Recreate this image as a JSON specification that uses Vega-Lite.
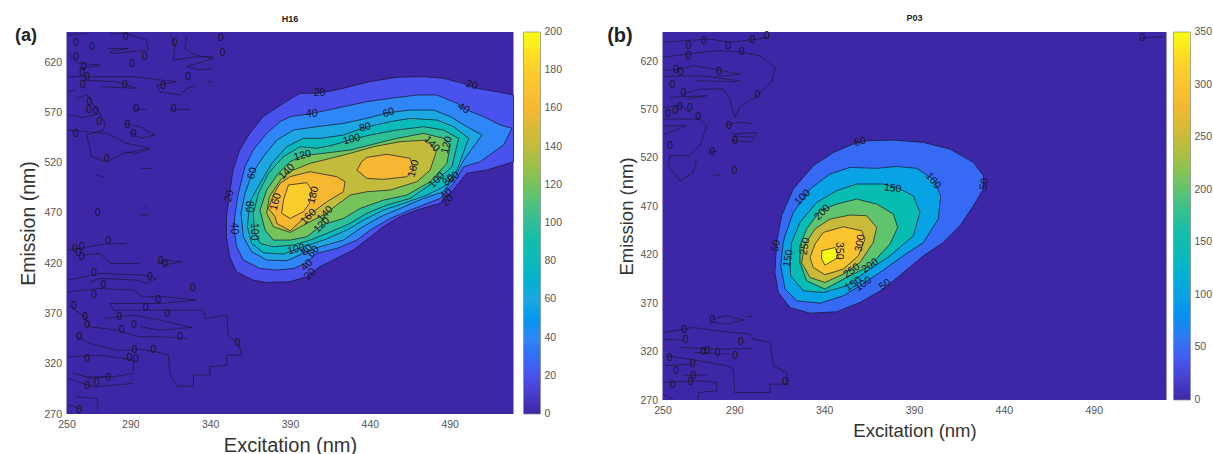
{"$schema":"https://vega.github.io/schema/vega-lite/v6.json","background":"white","padding":{"left":14.5,"top":13,"right":5,"bottom":5},"bounds":"flush","spacing":149,"resolve":{"scale":{"fill":"independent"},"legend":{"fill":"independent"}},"config":{"font":"Liberation Sans","view":{"stroke":null,"fill":"#3e27a6"},"axis":{"grid":false,"domain":false,"ticks":false,"labelColor":"#555555","labelFontSize":10.5,"labelPadding":5,"titleColor":"#333333","titleFontWeight":"normal","labelOverlap":false,"labelFlush":false},"legend":{"labelColor":"#555555","labelFontSize":10.5,"gradientStrokeColor":"#8a8a8a","gradientStrokeWidth":0.7},"title":{"fontSize":9,"fontWeight":"bold","color":"#222222","offset":3}},"datasets":{"contA":[
{"g":"L20","level":20,"x":350.2,"y":446.3},{"g":"L20","level":20,"x":352.2,"y":426.4},{"g":"L20","level":20,"x":356.4,"y":411.5},{"g":"L20","level":20,"x":366.9,"y":403.2},{"g":"L20","level":20,"x":375.2,"y":400.9},{"g":"L20","level":20,"x":389.9,"y":401.6},{"g":"L20","level":20,"x":400.3,"y":406.5},{"g":"L20","level":20,"x":408.7,"y":416.5},{"g":"L20","level":20,"x":419.1,"y":424.8},{"g":"L20","level":20,"x":429.6,"y":433.1},{"g":"L20","level":20,"x":437.9,"y":443},{"g":"L20","level":20,"x":448.4,"y":456.3},{"g":"L20","level":20,"x":458.8,"y":466.3},{"g":"L20","level":20,"x":469.3,"y":472.9},{"g":"L20","level":20,"x":483.9,"y":479.5},{"g":"L20","level":20,"x":492.3,"y":492.8},{"g":"L20","level":20,"x":500.6,"y":509.4},{"g":"L20","level":20,"x":513.2,"y":512.7},{"g":"L20","level":20,"x":523.6,"y":517.7},{"g":"L20","level":20,"x":530,"y":521},{"g":"L20","level":20,"x":530,"y":587.3},{"g":"L20","level":20,"x":519.4,"y":590.6},{"g":"L20","level":20,"x":506.9,"y":594},{"g":"L20","level":20,"x":498.5,"y":598.9},{"g":"L20","level":20,"x":486,"y":603.9},{"g":"L20","level":20,"x":473.5,"y":605.6},{"g":"L20","level":20,"x":456.7,"y":604.9},{"g":"L20","level":20,"x":440,"y":600.6},{"g":"L20","level":20,"x":431.7,"y":597.3},{"g":"L20","level":20,"x":419.1,"y":592.3},{"g":"L20","level":20,"x":406.6,"y":589},{"g":"L20","level":20,"x":396.1,"y":589},{"g":"L20","level":20,"x":385.7,"y":579},{"g":"L20","level":20,"x":373.1,"y":565.8},{"g":"L20","level":20,"x":364.8,"y":549.2},{"g":"L20","level":20,"x":358.5,"y":532.6},{"g":"L20","level":20,"x":354.3,"y":512.7},{"g":"L20","level":20,"x":352.2,"y":489.5},{"g":"L20","level":20,"x":350.2,"y":466.2},{"g":"L20","level":20,"x":350.2,"y":446.3},
{"g":"L40","level":40,"x":354.9,"y":454.6},{"g":"L40","level":40,"x":356.6,"y":436.4},{"g":"L40","level":40,"x":360.8,"y":423.1},{"g":"L40","level":40,"x":371.2,"y":414.8},{"g":"L40","level":40,"x":381.7,"y":413.2},{"g":"L40","level":40,"x":392.2,"y":414.8},{"g":"L40","level":40,"x":399.5,"y":419.8},{"g":"L40","level":40,"x":406.8,"y":429.8},{"g":"L40","level":40,"x":419.3,"y":434.7},{"g":"L40","level":40,"x":431.9,"y":443},{"g":"L40","level":40,"x":440.2,"y":453},{"g":"L40","level":40,"x":452.8,"y":464.6},{"g":"L40","level":40,"x":465.3,"y":472.9},{"g":"L40","level":40,"x":484.1,"y":484.5},{"g":"L40","level":40,"x":492.5,"y":499.4},{"g":"L40","level":40,"x":498.8,"y":516},{"g":"L40","level":40,"x":509.2,"y":521},{"g":"L40","level":40,"x":523.8,"y":537.6},{"g":"L40","level":40,"x":529,"y":554.2},{"g":"L40","level":40,"x":521.7,"y":557.5},{"g":"L40","level":40,"x":511.3,"y":565.8},{"g":"L40","level":40,"x":500.8,"y":572.4},{"g":"L40","level":40,"x":494.6,"y":579},{"g":"L40","level":40,"x":482,"y":587.3},{"g":"L40","level":40,"x":469.5,"y":587.3},{"g":"L40","level":40,"x":452.8,"y":584},{"g":"L40","level":40,"x":438.1,"y":580.7},{"g":"L40","level":40,"x":423.5,"y":575.7},{"g":"L40","level":40,"x":408.9,"y":570.7},{"g":"L40","level":40,"x":400.5,"y":568.1},{"g":"L40","level":40,"x":390.1,"y":565.8},{"g":"L40","level":40,"x":383.8,"y":560.8},{"g":"L40","level":40,"x":375.4,"y":549.2},{"g":"L40","level":40,"x":367,"y":532.6},{"g":"L40","level":40,"x":361.8,"y":516},{"g":"L40","level":40,"x":357.6,"y":489.5},{"g":"L40","level":40,"x":355.6,"y":469.6},{"g":"L40","level":40,"x":354.9,"y":454.6},
{"g":"L60","level":60,"x":366.4,"y":509.4},{"g":"L60","level":60,"x":361.8,"y":489.5},{"g":"L60","level":60,"x":359.3,"y":469.6},{"g":"L60","level":60,"x":360.8,"y":446.3},{"g":"L60","level":60,"x":366,"y":431.4},{"g":"L60","level":60,"x":375.4,"y":423.1},{"g":"L60","level":60,"x":388,"y":422.5},{"g":"L60","level":60,"x":400.5,"y":431.4},{"g":"L60","level":60,"x":408.9,"y":436.4},{"g":"L60","level":60,"x":423.5,"y":443},{"g":"L60","level":60,"x":433.9,"y":454.6},{"g":"L60","level":60,"x":446.5,"y":466.2},{"g":"L60","level":60,"x":459,"y":474.5},{"g":"L60","level":60,"x":473.7,"y":484.5},{"g":"L60","level":60,"x":486.2,"y":491.1},{"g":"L60","level":60,"x":493.5,"y":506.1},{"g":"L60","level":60,"x":498.8,"y":522.6},{"g":"L60","level":60,"x":510.2,"y":547.5},{"g":"L60","level":60,"x":500.8,"y":555.8},{"g":"L60","level":60,"x":490.4,"y":565.8},{"g":"L60","level":60,"x":479.9,"y":572.4},{"g":"L60","level":60,"x":465.3,"y":572.4},{"g":"L60","level":60,"x":451.7,"y":569.7},{"g":"L60","level":60,"x":438.1,"y":564.1},{"g":"L60","level":60,"x":423.5,"y":559.1},{"g":"L60","level":60,"x":406.8,"y":555.8},{"g":"L60","level":60,"x":392.2,"y":552.5},{"g":"L60","level":60,"x":381.7,"y":542.5},{"g":"L60","level":60,"x":373.3,"y":526},{"g":"L60","level":60,"x":366.4,"y":509.4},
{"g":"L80","level":80,"x":364.6,"y":476.2},{"g":"L80","level":80,"x":363.3,"y":456.3},{"g":"L80","level":80,"x":366,"y":439.7},{"g":"L80","level":80,"x":373.3,"y":430.4},{"g":"L80","level":80,"x":385.9,"y":429.1},{"g":"L80","level":80,"x":398.4,"y":436.4},{"g":"L80","level":80,"x":411,"y":443},{"g":"L80","level":80,"x":425.6,"y":453},{"g":"L80","level":80,"x":436,"y":462.9},{"g":"L80","level":80,"x":448.6,"y":472.9},{"g":"L80","level":80,"x":461.1,"y":479.5},{"g":"L80","level":80,"x":475.8,"y":487.8},{"g":"L80","level":80,"x":488.3,"y":497.8},{"g":"L80","level":80,"x":494.6,"y":512.7},{"g":"L80","level":80,"x":501.9,"y":544.2},{"g":"L80","level":80,"x":492.5,"y":555.8},{"g":"L80","level":80,"x":482,"y":562.4},{"g":"L80","level":80,"x":465.3,"y":564.1},{"g":"L80","level":80,"x":452.8,"y":560.8},{"g":"L80","level":80,"x":437.1,"y":555.1},{"g":"L80","level":80,"x":423.5,"y":547.5},{"g":"L80","level":80,"x":408.9,"y":544.2},{"g":"L80","level":80,"x":398.4,"y":544.2},{"g":"L80","level":80,"x":388,"y":535.9},{"g":"L80","level":80,"x":378.6,"y":519.3},{"g":"L80","level":80,"x":371.2,"y":499.4},{"g":"L80","level":80,"x":366,"y":484.5},{"g":"L80","level":80,"x":364.6,"y":476.2},
{"g":"L100","level":100,"x":367.7,"y":451.3},{"g":"L100","level":100,"x":371.2,"y":439.7},{"g":"L100","level":100,"x":379.6,"y":436.4},{"g":"L100","level":100,"x":392.2,"y":438.1},{"g":"L100","level":100,"x":402.6,"y":443},{"g":"L100","level":100,"x":413.1,"y":449.7},{"g":"L100","level":100,"x":427.7,"y":459.6},{"g":"L100","level":100,"x":438.1,"y":469.6},{"g":"L100","level":100,"x":450.7,"y":477.9},{"g":"L100","level":100,"x":465.3,"y":484.5},{"g":"L100","level":100,"x":482,"y":502.7},{"g":"L100","level":100,"x":491.4,"y":516},{"g":"L100","level":100,"x":495.6,"y":544.2},{"g":"L100","level":100,"x":486.2,"y":552.5},{"g":"L100","level":100,"x":473.7,"y":555.8},{"g":"L100","level":100,"x":457,"y":552.5},{"g":"L100","level":100,"x":440.2,"y":547.5},{"g":"L100","level":100,"x":428.7,"y":543.2},{"g":"L100","level":100,"x":417.2,"y":537.6},{"g":"L100","level":100,"x":406.8,"y":534.3},{"g":"L100","level":100,"x":396.3,"y":535.9},{"g":"L100","level":100,"x":385.9,"y":526},{"g":"L100","level":100,"x":376.5,"y":509.4},{"g":"L100","level":100,"x":370.2,"y":489.5},{"g":"L100","level":100,"x":367,"y":469.6},{"g":"L100","level":100,"x":367.7,"y":451.3},
{"g":"L120","level":120,"x":397.8,"y":527},{"g":"L120","level":120,"x":390.1,"y":521},{"g":"L120","level":120,"x":382.7,"y":509.4},{"g":"L120","level":120,"x":375.4,"y":492.8},{"g":"L120","level":120,"x":371.2,"y":472.9},{"g":"L120","level":120,"x":374.4,"y":453},{"g":"L120","level":120,"x":379.6,"y":443},{"g":"L120","level":120,"x":390.1,"y":443},{"g":"L120","level":120,"x":400.5,"y":446.3},{"g":"L120","level":120,"x":409.9,"y":458},{"g":"L120","level":120,"x":423.5,"y":464.6},{"g":"L120","level":120,"x":433.9,"y":474.5},{"g":"L120","level":120,"x":448.6,"y":482.8},{"g":"L120","level":120,"x":463.2,"y":487.8},{"g":"L120","level":120,"x":477.8,"y":501.1},{"g":"L120","level":120,"x":488.3,"y":519.3},{"g":"L120","level":120,"x":490.4,"y":537.6},{"g":"L120","level":120,"x":486.2,"y":544.2},{"g":"L120","level":120,"x":473.7,"y":549.2},{"g":"L120","level":120,"x":457,"y":544.2},{"g":"L120","level":120,"x":440.2,"y":537.6},{"g":"L120","level":120,"x":427.7,"y":532.6},{"g":"L120","level":120,"x":411,"y":529.3},{"g":"L120","level":120,"x":397.8,"y":527},
{"g":"L140","level":140,"x":384.8,"y":504.4},{"g":"L140","level":140,"x":392.2,"y":512.7},{"g":"L140","level":140,"x":402.6,"y":519.3},{"g":"L140","level":140,"x":411,"y":522.6},{"g":"L140","level":140,"x":427.7,"y":529.3},{"g":"L140","level":140,"x":442.3,"y":535.9},{"g":"L140","level":140,"x":459,"y":540.9},{"g":"L140","level":140,"x":475.8,"y":542.5},{"g":"L140","level":140,"x":481.6,"y":530.9},{"g":"L140","level":140,"x":477.8,"y":512.7},{"g":"L140","level":140,"x":469.5,"y":501.1},{"g":"L140","level":140,"x":452.8,"y":492.8},{"g":"L140","level":140,"x":438.1,"y":491.1},{"g":"L140","level":140,"x":427.7,"y":487.8},{"g":"L140","level":140,"x":419.3,"y":477.9},{"g":"L140","level":140,"x":412,"y":468.9},{"g":"L140","level":140,"x":402.6,"y":461.3},{"g":"L140","level":140,"x":390.1,"y":450.7},{"g":"L140","level":140,"x":379.6,"y":456.3},{"g":"L140","level":140,"x":375.4,"y":469.6},{"g":"L140","level":140,"x":377.1,"y":486.2},{"g":"L140","level":140,"x":384.8,"y":504.4},
{"g":"L160a","level":160,"x":390.1,"y":506.1},{"g":"L160a","level":160,"x":402.6,"y":511},{"g":"L160a","level":160,"x":419.3,"y":506.1},{"g":"L160a","level":160,"x":424.5,"y":501.1},{"g":"L160a","level":160,"x":423.5,"y":491.1},{"g":"L160a","level":160,"x":413.1,"y":481.2},{"g":"L160a","level":160,"x":404.7,"y":471.2},{"g":"L160a","level":160,"x":397.4,"y":462.9},{"g":"L160a","level":160,"x":390.1,"y":452.3},{"g":"L160a","level":160,"x":381.7,"y":459.6},{"g":"L160a","level":160,"x":380.7,"y":466.2},{"g":"L160a","level":160,"x":376.5,"y":474.5},{"g":"L160a","level":160,"x":379.6,"y":487.8},{"g":"L160a","level":160,"x":383.8,"y":499.4},{"g":"L160a","level":160,"x":390.1,"y":506.1},
{"g":"L160b","level":160,"x":438.1,"y":525.3},{"g":"L160b","level":160,"x":450.7,"y":528.3},{"g":"L160b","level":160,"x":465.3,"y":524.3},{"g":"L160b","level":160,"x":467.4,"y":512.7},{"g":"L160b","level":160,"x":463.2,"y":506.1},{"g":"L160b","level":160,"x":448.6,"y":503.4},{"g":"L160b","level":160,"x":438.1,"y":504.4},{"g":"L160b","level":160,"x":431.9,"y":512.7},{"g":"L160b","level":160,"x":435,"y":521},{"g":"L160b","level":160,"x":438.1,"y":525.3},
{"g":"L180","level":180,"x":389,"y":497.8},{"g":"L180","level":180,"x":400.5,"y":500.1},{"g":"L180","level":180,"x":403.6,"y":492.8},{"g":"L180","level":180,"x":402.2,"y":479.5},{"g":"L180","level":180,"x":398.4,"y":471.2},{"g":"L180","level":180,"x":390.1,"y":464.6},{"g":"L180","level":180,"x":384.8,"y":469.6},{"g":"L180","level":180,"x":385.9,"y":482.8},{"g":"L180","level":180,"x":389,"y":497.8}
],"contB":[
{"g":"L50","level":50,"x":363.6,"y":537.7},{"g":"L50","level":50,"x":378.5,"y":538.4},{"g":"L50","level":50,"x":395.2,"y":536},{"g":"L50","level":50,"x":410,"y":529.1},{"g":"L50","level":50,"x":423,"y":515.4},{"g":"L50","level":50,"x":428.6,"y":501.6},{"g":"L50","level":50,"x":428.6,"y":487.8},{"g":"L50","level":50,"x":423,"y":470.6},{"g":"L50","level":50,"x":415.6,"y":449.9},{"g":"L50","level":50,"x":406.3,"y":432.7},{"g":"L50","level":50,"x":395.2,"y":418.9},{"g":"L50","level":50,"x":384,"y":401.7},{"g":"L50","level":50,"x":372.9,"y":384.5},{"g":"L50","level":50,"x":359.9,"y":370.7},{"g":"L50","level":50,"x":346.9,"y":361.1},{"g":"L50","level":50,"x":332.1,"y":359.7},{"g":"L50","level":50,"x":321,"y":365.5},{"g":"L50","level":50,"x":314.5,"y":381},{"g":"L50","level":50,"x":312.6,"y":401.7},{"g":"L50","level":50,"x":313.5,"y":432.7},{"g":"L50","level":50,"x":316.3,"y":460.3},{"g":"L50","level":50,"x":322.8,"y":487.8},{"g":"L50","level":50,"x":333.9,"y":511.9},{"g":"L50","level":50,"x":345.1,"y":525.7},{"g":"L50","level":50,"x":356.2,"y":534.3},{"g":"L50","level":50,"x":363.6,"y":537.7},
{"g":"L100","level":100,"x":317.2,"y":432.7},{"g":"L100","level":100,"x":315.8,"y":408.6},{"g":"L100","level":100,"x":318.2,"y":384.5},{"g":"L100","level":100,"x":324.7,"y":372.4},{"g":"L100","level":100,"x":337.7,"y":370},{"g":"L100","level":100,"x":350.6,"y":377.6},{"g":"L100","level":100,"x":359.9,"y":387.9},{"g":"L100","level":100,"x":371,"y":401.7},{"g":"L100","level":100,"x":384,"y":418.9},{"g":"L100","level":100,"x":395.2,"y":432.7},{"g":"L100","level":100,"x":403.5,"y":456.8},{"g":"L100","level":100,"x":404.8,"y":480.9},{"g":"L100","level":100,"x":400.7,"y":498.1},{"g":"L100","level":100,"x":391.5,"y":509.2},{"g":"L100","level":100,"x":380.3,"y":511.2},{"g":"L100","level":100,"x":369.2,"y":509.2},{"g":"L100","level":100,"x":354.4,"y":510.2},{"g":"L100","level":100,"x":343.2,"y":503.3},{"g":"L100","level":100,"x":332.1,"y":487.8},{"g":"L100","level":100,"x":322.8,"y":463.7},{"g":"L100","level":100,"x":318.2,"y":439.6},{"g":"L100","level":100,"x":317.2,"y":432.7},
{"g":"L150","level":150,"x":321,"y":415.5},{"g":"L150","level":150,"x":321.3,"y":398.3},{"g":"L150","level":150,"x":328.4,"y":382.8},{"g":"L150","level":150,"x":339.5,"y":381},{"g":"L150","level":150,"x":352.5,"y":387.9},{"g":"L150","level":150,"x":362.7,"y":401.7},{"g":"L150","level":150,"x":376.6,"y":418.9},{"g":"L150","level":150,"x":389.6,"y":439.6},{"g":"L150","level":150,"x":393.3,"y":463.7},{"g":"L150","level":150,"x":389.6,"y":480.9},{"g":"L150","level":150,"x":380.3,"y":489.5},{"g":"L150","level":150,"x":372.9,"y":493},{"g":"L150","level":150,"x":358.1,"y":493},{"g":"L150","level":150,"x":346.9,"y":486.1},{"g":"L150","level":150,"x":335.8,"y":474},{"g":"L150","level":150,"x":326.5,"y":453.4},{"g":"L150","level":150,"x":321.9,"y":432.7},{"g":"L150","level":150,"x":321,"y":415.5},
{"g":"L200","level":200,"x":326.5,"y":412},{"g":"L200","level":200,"x":330.2,"y":393.1},{"g":"L200","level":200,"x":340.4,"y":384.5},{"g":"L200","level":200,"x":352.5,"y":396.5},{"g":"L200","level":200,"x":365.5,"y":408.6},{"g":"L200","level":200,"x":376.6,"y":431},{"g":"L200","level":200,"x":380.9,"y":448.2},{"g":"L200","level":200,"x":378.5,"y":462},{"g":"L200","level":200,"x":369.2,"y":472.3},{"g":"L200","level":200,"x":358.1,"y":477.5},{"g":"L200","level":200,"x":346.9,"y":472.3},{"g":"L200","level":200,"x":337.7,"y":465.4},{"g":"L200","level":200,"x":330.2,"y":446.5},{"g":"L200","level":200,"x":326.5,"y":429.3},{"g":"L200","level":200,"x":326.5,"y":412},
{"g":"L250","level":250,"x":327.4,"y":412},{"g":"L250","level":250,"x":332.1,"y":396.5},{"g":"L250","level":250,"x":340.4,"y":391.4},{"g":"L250","level":250,"x":350.6,"y":400},{"g":"L250","level":250,"x":359.9,"y":412},{"g":"L250","level":250,"x":367.3,"y":432.7},{"g":"L250","level":250,"x":369.2,"y":448.2},{"g":"L250","level":250,"x":363.6,"y":460.3},{"g":"L250","level":250,"x":354.4,"y":461},{"g":"L250","level":250,"x":343.2,"y":456.8},{"g":"L250","level":250,"x":334.9,"y":446.5},{"g":"L250","level":250,"x":329.3,"y":431},{"g":"L250","level":250,"x":327.4,"y":412},
{"g":"L300","level":300,"x":332.1,"y":417.2},{"g":"L300","level":300,"x":333.9,"y":406.9},{"g":"L300","level":300,"x":340.4,"y":399.3},{"g":"L300","level":300,"x":350.6,"y":405.2},{"g":"L300","level":300,"x":359,"y":418.9},{"g":"L300","level":300,"x":362.7,"y":436.1},{"g":"L300","level":300,"x":360.8,"y":444.8},{"g":"L300","level":300,"x":350.6,"y":448.9},{"g":"L300","level":300,"x":339.5,"y":443},{"g":"L300","level":300,"x":334.9,"y":431},{"g":"L300","level":300,"x":332.1,"y":417.2},
{"g":"L350","level":350,"x":338.6,"y":424.1},{"g":"L350","level":350,"x":346,"y":427.5},{"g":"L350","level":350,"x":347.9,"y":417.2},{"g":"L350","level":350,"x":340.4,"y":409.3},{"g":"L350","level":350,"x":338.6,"y":415.5},{"g":"L350","level":350,"x":338.6,"y":424.1}
],"zeroA":[
{"g":"a","x":251.1,"y":647},{"g":"a","x":262.6,"y":648.6},
{"g":"b","x":277.2,"y":648},{"g":"b","x":287.7,"y":648.6},{"g":"b","x":300.2,"y":642},{"g":"b","x":301.3,"y":632},{"g":"b","x":279.3,"y":628.7},{"g":"b","x":277.2,"y":630.4},{"g":"b","x":288.7,"y":633.7},{"g":"b","x":276.2,"y":633.7},
{"g":"c","x":314.8,"y":648.6},{"g":"c","x":318,"y":637},{"g":"c","x":316.9,"y":622.1},{"g":"c","x":331.6,"y":625.4},{"g":"c","x":342,"y":625.4},
{"g":"d","x":325.3,"y":645.3},{"g":"d","x":324.2,"y":633.7},{"g":"d","x":330.5,"y":627.1},{"g":"d","x":342,"y":623.8},{"g":"d","x":325.3,"y":615.5},{"g":"d","x":333.6,"y":612.2},{"g":"d","x":341,"y":613.8},
{"g":"e","x":251.1,"y":628.7},{"g":"e","x":257.4,"y":618.8},{"g":"e","x":271,"y":617.1},{"g":"e","x":258.4,"y":613.8},
{"g":"f","x":251.1,"y":605.5},{"g":"f","x":271,"y":605.5},{"g":"f","x":291.9,"y":605.5},{"g":"f","x":319,"y":600.5},{"g":"f","x":306.5,"y":597.2},{"g":"f","x":308.6,"y":590.6},{"g":"f","x":321.1,"y":587.3},{"g":"f","x":325.3,"y":593.9},{"g":"f","x":330.5,"y":596.2},
{"g":"g","x":258.4,"y":602.2},{"g":"g","x":281.4,"y":600.5},{"g":"g","x":294,"y":593.9},{"g":"g","x":272,"y":595.6},
{"g":"h","x":251.1,"y":590.6},{"g":"h","x":255.3,"y":592.2},
{"g":"i","x":256.3,"y":584},{"g":"i","x":262.6,"y":587.3},{"g":"i","x":271,"y":569},{"g":"i","x":274.1,"y":559.1},{"g":"i","x":273.1,"y":552.4},{"g":"i","x":262.6,"y":547.5},{"g":"i","x":265.8,"y":525.9},{"g":"i","x":275.2,"y":520.9},{"g":"i","x":285.6,"y":529.2},{"g":"i","x":302.3,"y":534.2},{"g":"i","x":287.7,"y":539.2},{"g":"i","x":275.2,"y":549.1},{"g":"i","x":251.1,"y":552.4},
{"g":"j","x":286,"y":559.1},{"g":"j","x":296,"y":555.8},{"g":"j","x":305.4,"y":547.5},{"g":"j","x":296,"y":544.2},{"g":"j","x":289.8,"y":550.8},
{"g":"k","x":285.6,"y":530.9},{"g":"k","x":294,"y":529.2},{"g":"k","x":302.3,"y":534.2},
{"g":"l","x":291.9,"y":573},{"g":"l","x":300.2,"y":573},
{"g":"l2","x":314.8,"y":573},{"g":"l2","x":327.4,"y":573},
{"g":"m","x":251.1,"y":567.4},{"g":"m","x":260.5,"y":565.1},{"g":"m","x":271,"y":569},
{"g":"s1","x":268.9,"y":507.7},{"g":"s1","x":273.1,"y":506},
{"g":"s2","x":297.1,"y":514.3},{"g":"s2","x":303.4,"y":514.3},
{"g":"s3","x":298.1,"y":476.2},{"g":"s3","x":300.2,"y":476.2},
{"g":"s4","x":296,"y":467.9},{"g":"s4","x":301.3,"y":467.9},
{"g":"s5","x":337.8,"y":600.5},{"g":"s5","x":341,"y":600.5},
{"g":"n","x":251.1,"y":433},{"g":"n","x":264.7,"y":436.4},{"g":"n","x":273.1,"y":439},{"g":"n","x":287.7,"y":439.7},
{"g":"o","x":260.5,"y":428.1},{"g":"o","x":271,"y":429.7},{"g":"o","x":277.2,"y":419.8},{"g":"o","x":296,"y":419.8},
{"g":"p","x":306.5,"y":419.8},{"g":"p","x":312.8,"y":423.1},{"g":"p","x":322.1,"y":421.4},{"g":"p","x":310.7,"y":418.1},
{"g":"q","x":251.1,"y":403.2},{"g":"q","x":271,"y":409.8},{"g":"q","x":298.1,"y":408.2},{"g":"q","x":306.5,"y":404.9},{"g":"q","x":300.2,"y":399.9},{"g":"q","x":294,"y":403.2},{"g":"q","x":271,"y":404.9},{"g":"q","x":264.7,"y":401.5},
{"g":"r","x":251.1,"y":391.6},{"g":"r","x":271,"y":394.9},{"g":"r","x":291.9,"y":393.2},{"g":"r","x":298.1,"y":386.6},{"g":"r","x":312.8,"y":386.6},{"g":"r","x":331.6,"y":383.3},{"g":"r","x":308.6,"y":380},{"g":"r","x":277.2,"y":380},{"g":"r","x":279.3,"y":373.3},{"g":"r","x":300.2,"y":373.3},{"g":"r","x":323.2,"y":373.3},{"g":"r","x":335.7,"y":373.3},{"g":"r","x":336.8,"y":365},{"g":"r","x":350.4,"y":368.4},{"g":"r","x":351.4,"y":348.5},{"g":"r","x":357.7,"y":340.2},{"g":"r","x":359.8,"y":328.6},{"g":"r","x":350.4,"y":328.6},{"g":"r","x":350.4,"y":318.6},{"g":"r","x":339.9,"y":317},{"g":"r","x":339.9,"y":308.7},{"g":"r","x":329.5,"y":308.7},{"g":"r","x":329.5,"y":297.7},{"g":"r","x":319,"y":297.7},{"g":"r","x":314.8,"y":310.3},{"g":"r","x":313.8,"y":328.6},{"g":"r","x":306.5,"y":331.9},{"g":"r","x":291.9,"y":335.2},
{"g":"s","x":273.1,"y":365},{"g":"s","x":291.9,"y":368.4},{"g":"s","x":308.6,"y":363.4},{"g":"s","x":328.4,"y":356.1},{"g":"s","x":308.6,"y":353.4},{"g":"s","x":296,"y":356.8},
{"g":"t","x":251.1,"y":378.3},{"g":"t","x":261.6,"y":366.7},{"g":"t","x":264.7,"y":356.8},{"g":"t","x":281.4,"y":353.4},{"g":"t","x":296,"y":346.8},{"g":"t","x":308.6,"y":346.8},{"g":"t","x":325.3,"y":345.1},
{"g":"u","x":256.3,"y":346.8},{"g":"u","x":264.7,"y":340.2},{"g":"u","x":281.4,"y":333.5},{"g":"u","x":291.9,"y":333.5},
{"g":"v","x":251.1,"y":326.9},{"g":"v","x":271,"y":328.6},{"g":"v","x":291.9,"y":323.6},{"g":"v","x":291.9,"y":310.3},{"g":"v","x":279.3,"y":307},{"g":"v","x":262.6,"y":307},{"g":"v","x":254.3,"y":310.3},
{"g":"w","x":262.6,"y":305.3},{"g":"w","x":276.2,"y":307},
{"g":"x","x":251.1,"y":305.3},{"g":"x","x":266.8,"y":297},{"g":"x","x":291.9,"y":300.4},
{"g":"y","x":256.3,"y":287.1},{"g":"y","x":268.9,"y":285.4},{"g":"y","x":269.9,"y":273.8},
{"g":"z","x":251.1,"y":278.8},{"g":"z","x":258.4,"y":275.5}
],"zeroB":[
{"g":"a","x":250.4,"y":639.3},{"g":"a","x":261.6,"y":641},{"g":"a","x":276.4,"y":642.7},{"g":"a","x":287.5,"y":639.3},{"g":"a","x":302.4,"y":642.7},{"g":"a","x":309.8,"y":644.5},
{"g":"b","x":250.4,"y":623.8},{"g":"b","x":263.4,"y":627.2},{"g":"b","x":280.3,"y":630.7},{"g":"b","x":293.1,"y":629.6},{"g":"b","x":304.2,"y":625.5},{"g":"b","x":312.6,"y":613.5},{"g":"b","x":310.7,"y":598},{"g":"b","x":302.4,"y":584.2},{"g":"b","x":293.1,"y":572.1},{"g":"b","x":290.3,"y":561.8},{"g":"b","x":287.5,"y":580.7},{"g":"b","x":283.8,"y":591.1},{"g":"b","x":270.8,"y":591.1},{"g":"b","x":261.6,"y":585.9},
{"g":"c","x":250.4,"y":604.2},{"g":"c","x":270.8,"y":604.9},{"g":"c","x":293.1,"y":599.7},
{"g":"d","x":269,"y":599.7},{"g":"d","x":291.3,"y":598.7},
{"g":"e","x":250.4,"y":610},{"g":"e","x":259.7,"y":611.7},{"g":"e","x":267.1,"y":615.2},{"g":"e","x":278.3,"y":611.7},{"g":"e","x":293.1,"y":606.6},{"g":"e","x":278.3,"y":603.1},
{"g":"f","x":254.2,"y":582.5},{"g":"f","x":274.6,"y":584.2},{"g":"f","x":263.4,"y":580.7},
{"g":"g","x":250.4,"y":572.1},{"g":"g","x":259.7,"y":574.5},{"g":"g","x":265.3,"y":567},
{"g":"h","x":250.4,"y":553.2},{"g":"h","x":263.4,"y":553.2},{"g":"h","x":254.2,"y":546.3},{"g":"h","x":250.4,"y":544.6},
{"g":"i","x":250.4,"y":560.1},{"g":"i","x":270.8,"y":560.1},{"g":"i","x":274.6,"y":553.2},{"g":"i","x":270.8,"y":532.5},{"g":"i","x":265.3,"y":522.2},{"g":"i","x":254.2,"y":522.2},{"g":"i","x":253.2,"y":511.9},{"g":"i","x":259.7,"y":496.4},{"g":"i","x":267.1,"y":505},{"g":"i","x":269,"y":518.8},
{"g":"j","x":285.7,"y":554.9},{"g":"j","x":295,"y":556.6},{"g":"j","x":300.5,"y":554.9},
{"g":"k","x":288.5,"y":544.6},{"g":"k","x":302.4,"y":546.3},{"g":"k","x":300.5,"y":541.1},{"g":"k","x":289.4,"y":542.9},
{"g":"l","x":288.5,"y":537.7},{"g":"l","x":300.5,"y":536.7},
{"g":"m","x":275.5,"y":525.6},{"g":"m","x":281,"y":527.4},
{"g":"n","x":278.3,"y":502.2},{"g":"n","x":282,"y":502.2},
{"g":"o","x":277.3,"y":353.5},{"g":"o","x":285.7,"y":357},{"g":"o","x":295,"y":352.5},{"g":"o","x":285.7,"y":348.3},{"g":"o","x":278.3,"y":350.1},
{"g":"p","x":296.8,"y":356.3},{"g":"p","x":300.5,"y":356.3},
{"g":"q","x":250.4,"y":339.7},{"g":"q","x":267.1,"y":344.9},{"g":"q","x":280.1,"y":341.5},{"g":"q","x":298.7,"y":338},{"g":"q","x":300.5,"y":332.8},{"g":"q","x":309.8,"y":329.4},{"g":"q","x":311.7,"y":305.3},{"g":"q","x":319.1,"y":298.4},{"g":"q","x":320,"y":286.4},{"g":"q","x":309.8,"y":286.4},{"g":"q","x":309.8,"y":277.7},{"g":"q","x":290.3,"y":277.7},{"g":"q","x":289.4,"y":301.8},{"g":"q","x":285.7,"y":305.3},{"g":"q","x":270.8,"y":310.5},{"g":"q","x":252.3,"y":315.6},
{"g":"r","x":250.4,"y":332.8},{"g":"r","x":261.6,"y":331.8},
{"g":"s","x":259.7,"y":324.2},{"g":"s","x":280.1,"y":322.5},{"g":"s","x":300.5,"y":323.2},
{"g":"t","x":268.1,"y":319.1},{"g":"t","x":287.5,"y":317.3},
{"g":"u","x":250.4,"y":305.3},{"g":"u","x":267.1,"y":307},
{"g":"v","x":250.4,"y":288.1},{"g":"v","x":270.8,"y":289.8},{"g":"v","x":280.1,"y":288.1},{"g":"v","x":280.1,"y":279.5},{"g":"v","x":269.9,"y":277.7},{"g":"v","x":269.9,"y":270.2},
{"g":"w","x":261.6,"y":295.6},{"g":"w","x":274.6,"y":295.6},
{"g":"x","x":250.4,"y":276},{"g":"x","x":256,"y":270.8},
{"g":"y","x":517,"y":644},{"g":"y","x":528.5,"y":645}
]},"hconcat":[{"title":"H16","width":447,"height":382,"encoding":{"x":{"field":"x","type":"quantitative","title":"Excitation (nm)","scale":{"domain":[250,530],"nice":false,"zero":false},"axis":{"values":[250,290,340,390,440,490],"titleFontSize":20,"titlePadding":6}},"y":{"field":"y","type":"quantitative","title":"Emission (nm)","scale":{"domain":[270,650],"nice":false,"zero":false},"axis":{"values":[270,320,370,420,470,520,570,620],"titleFontSize":19.5,"titlePadding":5}}},"layer":[
{"data":{"name":"contA"},"transform":[{"window":[{"op":"row_number","as":"i"}]}],"mark":{"type":"line","filled":true,"stroke":"#14142a","strokeWidth":0.7},"encoding":{"detail":{"field":"g"},"order":{"field":"i","type":"quantitative"},"fill":{"field":"level","type":"quantitative","scale":{"domain":[0,20,40,60,80,100,120,140,160,180,200],"range":["#3e27a6","#4a52ee","#2f86f6","#1da7e0","#0bbbbb","#2cbf98","#76c35c","#c2bb3c","#f6b832","#fbcd2c","#f9fb15"]},"legend":{"type":"gradient","title":null,"orient":"right","offset":8,"gradientLength":382,"gradientThickness":17,"values":[0,20,40,60,80,100,120,140,160,180,200],"labelOffset":4,"labelOverlap":false,"encode":{"labels":{"update":{"baseline":{"value":"middle"}}}}}}}},
{"data":{"name":"zeroA"},"transform":[{"window":[{"op":"row_number","as":"i"}]}],"mark":{"type":"line","stroke":"#14142a","strokeWidth":0.6},"encoding":{"detail":{"field":"g"},"order":{"field":"i","type":"quantitative"}}},
{"data":{"values":[{"t":"0","x":256.1,"y":639.4},{"t":"0","x":265.9,"y":634.8},{"t":"0","x":256.1,"y":625.5},{"t":"0","x":287,"y":645.4},{"t":"0","x":299,"y":625.5},{"t":"0","x":291,"y":618.2},{"t":"0","x":317.7,"y":638.8},{"t":"0","x":346.6,"y":643.8},{"t":"0","x":347.6,"y":628.8},{"t":"0","x":260.7,"y":615.6},{"t":"0","x":259.8,"y":608.9},{"t":"0","x":262.8,"y":605},{"t":"0","x":260.2,"y":597.3},{"t":"0","x":286.4,"y":597.3},{"t":"0","x":310.4,"y":596.3},{"t":"0","x":326.1,"y":605.6},{"t":"0","x":264.4,"y":580.7},{"t":"0","x":264,"y":572.4},{"t":"0","x":268.2,"y":571.8},{"t":"0","x":293.7,"y":573.1},{"t":"0","x":317.1,"y":573.1},{"t":"0","x":270.4,"y":560.5},{"t":"0","x":288.1,"y":557.2},{"t":"0","x":291.9,"y":548.2},{"t":"0","x":255.7,"y":548.6},{"t":"0","x":275.2,"y":523.3},{"t":"0","x":269.5,"y":469.6},{"t":"0","x":255.3,"y":433.7},{"t":"0","x":259.5,"y":435.7},{"t":"0","x":257.4,"y":429.7},{"t":"0","x":259.5,"y":426.4},{"t":"0","x":276.2,"y":442.3},{"t":"0","x":309,"y":422.4},{"t":"0","x":311.7,"y":419.1},{"t":"0","x":302.3,"y":405.8},{"t":"0","x":267.2,"y":409.8},{"t":"0","x":273.1,"y":398.2},{"t":"0","x":267.2,"y":388.3},{"t":"0","x":329,"y":394.9},{"t":"0","x":307.5,"y":383.3},{"t":"0","x":254.7,"y":377.3},{"t":"0","x":299.6,"y":375.7},{"t":"0","x":313.2,"y":369},{"t":"0","x":261.6,"y":366},{"t":"0","x":263,"y":358.1},{"t":"0","x":283.1,"y":366},{"t":"0","x":292.3,"y":358.1},{"t":"0","x":284.6,"y":353.4},{"t":"0","x":258,"y":346.1},{"t":"0","x":321.1,"y":346.1},{"t":"0","x":292.5,"y":333.5},{"t":"0","x":304.4,"y":333.5},{"t":"0","x":357,"y":340.2},{"t":"0","x":263,"y":325.2},{"t":"0","x":289.4,"y":326.2},{"t":"0","x":293.5,"y":324.3},{"t":"0","x":276.2,"y":306.3},{"t":"0","x":268.9,"y":301},{"t":"0","x":263,"y":297.7},{"t":"0","x":258,"y":273.8},{"t":"20","x":408.5,"y":589.6},{"t":"40","x":403.6,"y":568.4}]},"mark":{"type":"text","fontSize":10.5,"color":"#14142a"},"encoding":{"text":{"field":"t"}}},
{"data":{"values":[{"t":"20","x":503.8,"y":597.3}]},"mark":{"type":"text","fontSize":10.5,"color":"#14142a","angle":15},"encoding":{"text":{"field":"t"}}},
{"data":{"values":[{"t":"40","x":498.7,"y":574}]},"mark":{"type":"text","fontSize":10.5,"color":"#14142a","angle":30},"encoding":{"text":{"field":"t"}}},
{"data":{"values":[{"t":"60","x":451.7,"y":569.7},{"t":"80","x":437,"y":555.1},{"t":"100","x":428.7,"y":543.2},{"t":"120","x":397.8,"y":527},{"t":"100","x":393.8,"y":433.8}]},"mark":{"type":"text","fontSize":10.5,"color":"#14142a","angle":345},"encoding":{"text":{"field":"t"}}},
{"data":{"values":[{"t":"100","x":482,"y":502.7},{"t":"120","x":409.9,"y":458},{"t":"140","x":388,"y":511},{"t":"140","x":412,"y":468.9},{"t":"160","x":401.6,"y":466.3},{"t":"60","x":404.7,"y":431.4},{"t":"80","x":400.5,"y":433.1},{"t":"40","x":400.5,"y":418.2},{"t":"20","x":402.6,"y":409.2},{"t":"80","x":489.3,"y":502.7},{"t":"60","x":492.5,"y":505.4},{"t":"40","x":487.9,"y":488.8},{"t":"20","x":488.7,"y":482.2}]},"mark":{"type":"text","fontSize":10.5,"color":"#14142a","angle":315},"encoding":{"text":{"field":"t"}}},
{"data":{"values":[{"t":"60","x":366.4,"y":509.4},{"t":"120","x":488.3,"y":537.6},{"t":"160","x":381.1,"y":481.2},{"t":"160","x":467.4,"y":514.3},{"t":"180","x":404.7,"y":487.8},{"t":"20","x":352,"y":486.8}]},"mark":{"type":"text","fontSize":10.5,"color":"#14142a","angle":285},"encoding":{"text":{"field":"t"}}},
{"data":{"values":[{"t":"80","x":364.6,"y":476.2},{"t":"100","x":367.7,"y":451.3},{"t":"40","x":354.9,"y":454.6}]},"mark":{"type":"text","fontSize":10.5,"color":"#14142a","angle":90},"encoding":{"text":{"field":"t"}}},
{"data":{"values":[{"t":"140","x":478.9,"y":538.6}]},"mark":{"type":"text","fontSize":10.5,"color":"#14142a","angle":45},"encoding":{"text":{"field":"t"}}},
{"data":{"values":[{"t":"(a)","x":224.6,"y":646}]},"mark":{"type":"text","fontSize":18,"fontWeight":"bold","color":"#222222"},"encoding":{"text":{"field":"t"}}}
]},{"title":"P03","width":504,"height":368,"encoding":{"x":{"field":"x","type":"quantitative","title":"Excitation (nm)","scale":{"domain":[250,530.5],"nice":false,"zero":false},"axis":{"values":[250,290,340,390,440,490],"titleFontSize":18.5,"titlePadding":6}},"y":{"field":"y","type":"quantitative","title":"Emission (nm)","scale":{"domain":[270,650],"nice":false,"zero":false},"axis":{"values":[270,320,370,420,470,520,570,620],"titleFontSize":18.5,"titlePadding":3}}},"layer":[
{"data":{"name":"contB"},"transform":[{"window":[{"op":"row_number","as":"i"}]}],"mark":{"type":"line","filled":true,"stroke":"#14142a","strokeWidth":0.7},"encoding":{"detail":{"field":"g"},"order":{"field":"i","type":"quantitative"},"fill":{"field":"level","type":"quantitative","scale":{"domain":[0,35,70,105,140,175,210,245,280,315,350],"range":["#3e27a6","#4a52ee","#2f86f6","#1da7e0","#0bbbbb","#2cbf98","#76c35c","#c2bb3c","#f6b832","#fbcd2c","#f9fb15"]},"legend":{"type":"gradient","title":null,"orient":"right","offset":7,"gradientLength":368,"gradientThickness":17,"values":[0,50,100,150,200,250,300,350],"labelOffset":4,"labelOverlap":false,"encode":{"labels":{"update":{"baseline":{"value":"middle"}}}}}}}},
{"data":{"name":"zeroB"},"transform":[{"window":[{"op":"row_number","as":"i"}]}],"mark":{"type":"line","stroke":"#14142a","strokeWidth":0.6},"encoding":{"detail":{"field":"g"},"order":{"field":"i","type":"quantitative"}}},
{"data":{"values":[{"t":"0","x":273.1,"y":641},{"t":"0","x":264.4,"y":635.8},{"t":"0","x":264.4,"y":624.8},{"t":"0","x":286.6,"y":635.8},{"t":"0","x":294,"y":629.6},{"t":"0","x":300,"y":642},{"t":"0","x":308,"y":645.5},{"t":"0","x":257.5,"y":611},{"t":"0","x":260.1,"y":609},{"t":"0","x":281.4,"y":608.3},{"t":"0","x":255.5,"y":595.2},{"t":"0","x":261.6,"y":587},{"t":"0","x":302.8,"y":584.9},{"t":"0","x":259.7,"y":572.1},{"t":"0","x":265.3,"y":571.1},{"t":"0","x":257,"y":568.7},{"t":"0","x":253.2,"y":565.2},{"t":"0","x":269.9,"y":561.8},{"t":"0","x":287,"y":553.2},{"t":"0","x":254.2,"y":532.5},{"t":"0","x":290.3,"y":537},{"t":"0","x":277.7,"y":525.6},{"t":"0","x":290,"y":506.7},{"t":"0","x":277.7,"y":352.5},{"t":"0","x":262.1,"y":342.5},{"t":"0","x":262.7,"y":331.8},{"t":"0","x":293.5,"y":329.4},{"t":"0","x":274.9,"y":320.8},{"t":"0","x":272.7,"y":319.1},{"t":"0","x":280.7,"y":318.7},{"t":"0","x":290.3,"y":315.6},{"t":"0","x":253.8,"y":313.2},{"t":"0","x":266.8,"y":306.7},{"t":"0","x":257.5,"y":300.1},{"t":"0","x":267.1,"y":295},{"t":"0","x":265.7,"y":289.1},{"t":"0","x":255.5,"y":285.3},{"t":"0","x":318.2,"y":288.1},{"t":"0","x":517,"y":644}]},"mark":{"type":"text","fontSize":10.5,"color":"#14142a"},"encoding":{"text":{"field":"t"}}},
{"data":{"values":[{"t":"50","x":359.9,"y":536.7}]},"mark":{"type":"text","fontSize":10.5,"color":"#14142a","angle":345},"encoding":{"text":{"field":"t"}}},
{"data":{"values":[{"t":"50","x":429.1,"y":493},{"t":"250","x":329.3,"y":428.6},{"t":"300","x":359.9,"y":432},{"t":"50","x":313.2,"y":429.3},{"t":"150","x":320,"y":416.2}]},"mark":{"type":"text","fontSize":10.5,"color":"#14142a","angle":280},"encoding":{"text":{"field":"t"}}},
{"data":{"values":[{"t":"50","x":373.8,"y":389},{"t":"100","x":361.8,"y":389.7},{"t":"150","x":356.2,"y":389.7},{"t":"200","x":365.5,"y":408.6},{"t":"250","x":355.3,"y":403.4}]},"mark":{"type":"text","fontSize":10.5,"color":"#14142a","angle":325},"encoding":{"text":{"field":"t"}}},
{"data":{"values":[{"t":"100","x":328,"y":479.2},{"t":"200","x":339,"y":463.7}]},"mark":{"type":"text","fontSize":10.5,"color":"#14142a","angle":315},"encoding":{"text":{"field":"t"}}},
{"data":{"values":[{"t":"100","x":400.7,"y":496.4}]},"mark":{"type":"text","fontSize":10.5,"color":"#14142a","angle":50},"encoding":{"text":{"field":"t"}}},
{"data":{"values":[{"t":"150","x":378.1,"y":488.5}]},"mark":{"type":"text","fontSize":10.5,"color":"#14142a","angle":5},"encoding":{"text":{"field":"t"}}},
{"data":{"values":[{"t":"350","x":348.2,"y":424.1}]},"mark":{"type":"text","fontSize":10.5,"color":"#14142a","angle":90},"encoding":{"text":{"field":"t"}}},
{"data":{"values":[{"t":"(b)","x":226.3,"y":646}]},"mark":{"type":"text","fontSize":20,"fontWeight":"bold","color":"#222222"},"encoding":{"text":{"field":"t"}}}
]}]}
